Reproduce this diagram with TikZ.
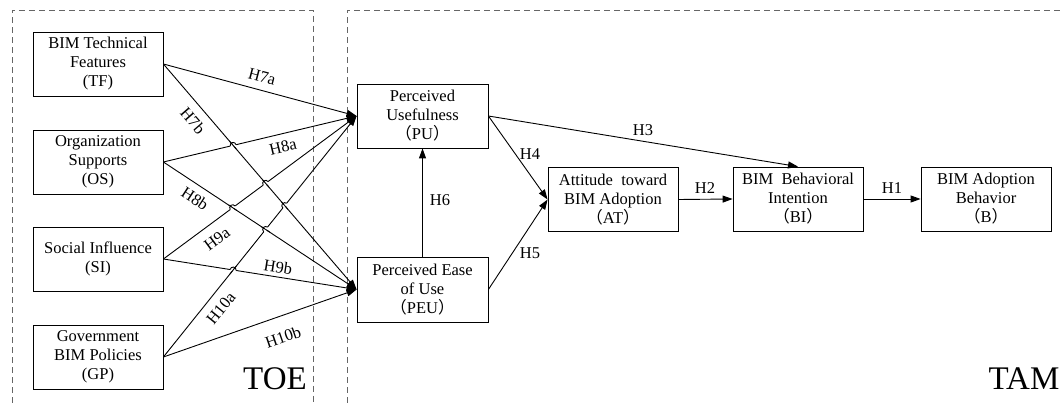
\documentclass[tikz,border=0pt]{standalone}
\usepackage{fontspec}
\setmainfont{Liberation Serif}
\newfontfamily\cjk{Noto Sans CJK SC}
\usetikzlibrary{arrows.meta,calc,intersections}
\newcommand\fwp[1]{{\cjk （}#1{\cjk ）}}
% #1 X path (hops), #2 Y path, #3 #4 X ends, #5 #6 Y ends
\newcommand\linehop[6]{%
  \path[name intersections={of=#1 and #2, by=ip}];
  \draw[white, line width=2.6pt] ($(ip)!3pt!(#3)$) -- ($(ip)!3pt!(#4)$);
  \draw[conn] ($(ip)!5pt!(#5)$) -- ($(ip)!5pt!(#6)$);
  \draw[conn] let \p1=($(#4)-(#3)$), \n1={atan2(\y1,\x1)} in
    ($(ip)!3pt!(#3)$) arc[start angle=\n1+180, end angle=\n1, radius=3pt];
}
\begin{document}
\begin{tikzpicture}[x=1pt,y=-1pt,
  box/.style={draw, line width=0.8pt, minimum width=130pt, minimum height=64pt, inner sep=0pt, align=center, font=\fontsize{16.5}{19}\selectfont},
  lab/.style={font=\fontsize{16.5}{19}\selectfont, inner sep=0pt},
  big/.style={font=\fontsize{33}{33}\selectfont, anchor=base, inner sep=0pt},
  conn/.style={line width=0.9pt},
  arr/.style={conn, -{Triangle[length=10pt,width=7pt]}},
  dashframe/.style={draw=black!60, line width=0.8pt, dash pattern=on 6pt off 4pt}]
\useasboundingbox (0,0) rectangle (1061,403);
\fill[white] (0,0) rectangle (1061,403);

% frames
\draw[dashframe] (12,403) -- (12,10) -- (313,10) -- (313,403);
\draw[dashframe] (347,403) -- (347,10) -- (1061,10);

% nodes
\node[box] (TF) at (98,64) {BIM Technical\\Features\\(TF)};
\node[box] (OS) at (98,162) {Organization\\Supports\\(OS)};
\node[box] (SI) at (98,259) {Social Influence\\(SI)};
\node[box] (GP) at (98,357) {Government\\BIM Policies\\(GP)};
\node[box, minimum width=131pt] (PU) at (422.5,116) {Perceived\\Usefulness\\\fwp{PU}};
\node[box, minimum width=131pt, minimum height=65pt] (PEU) at (422.5,289.5) {Perceived Ease\\of Use\\\fwp{PEU}};
\node[box] (AT) at (613,199.5) {Attitude\ \ toward\\BIM Adoption\\\fwp{AT}};
\node[box] (BI) at (798,199) {BIM\ \ Behavioral\\Intention\\\fwp{BI}};
\node[box] (B) at (986,199) {BIM Adoption\\Behavior\\\fwp{B}};

% left connectors
\draw[arr, name path=a] (TF.east) -- (PU.west);
\draw[arr, name path=b] (TF.east) -- (PEU.west);
\draw[arr, name path=c] (OS.east) -- (PU.west);
\draw[arr, name path=d] (OS.east) -- (PEU.west);
\draw[arr, name path=e] (SI.east) -- (PU.west);
\draw[arr, name path=f] (SI.east) -- (PEU.west);
\draw[arr, name path=g] (GP.east) -- (PU.west);
\draw[arr, name path=h] (GP.east) -- (PEU.west);

\linehop{c}{b}{OS.east}{PU.west}{TF.east}{PEU.west}
\linehop{e}{b}{SI.east}{PU.west}{TF.east}{PEU.west}
\linehop{g}{b}{GP.east}{PU.west}{TF.east}{PEU.west}
\linehop{e}{d}{SI.east}{PU.west}{OS.east}{PEU.west}
\linehop{g}{d}{GP.east}{PU.west}{OS.east}{PEU.west}
\linehop{f}{g}{SI.east}{PEU.west}{GP.east}{PU.west}

% TAM connectors
\draw[arr] (PEU.north) -- (PU.south);
\draw[arr] (PU.east) -- (AT.west);
\draw[arr] (PEU.east) -- (AT.west);
\draw[arr] (PU.east) -- (BI.north);
\draw[arr] (AT.east) -- (BI.west);
\draw[arr] (BI.east) -- (B.west);

% labels
\node[lab, rotate=-14.7] (l7a) at (262,77) {H7a};
\node[lab, rotate=-49] (l7b) at (193,121) {H7b};
\node[lab, rotate=13.3] (l8a) at (283,147) {H8a};
\node[lab, rotate=-33] (l8b) at (195,199) {H8b};
\node[lab, rotate=36.4] (l9a) at (217,239) {H9a};
\node[lab, rotate=-8.8] (l9b) at (278,267) {H9b};
\node[lab, rotate=51] (l10a) at (221,308) {H10a};
\node[lab, rotate=19] (l10b) at (283,337) {H10b};
\node[lab] (l6) at (440,200) {H6};
\node[lab] (l4) at (530,154) {H4};
\node[lab] (l5) at (530,253) {H5};
\node[lab] (l3) at (643,130) {H3};
\node[lab] (l2) at (705,188) {H2};
\node[lab] (l1) at (892,188) {H1};

\node[big] (toe) at (275,390) {TOE};
\node[big] (tam) at (1024,390) {TAM};
\end{tikzpicture}
\end{document}
